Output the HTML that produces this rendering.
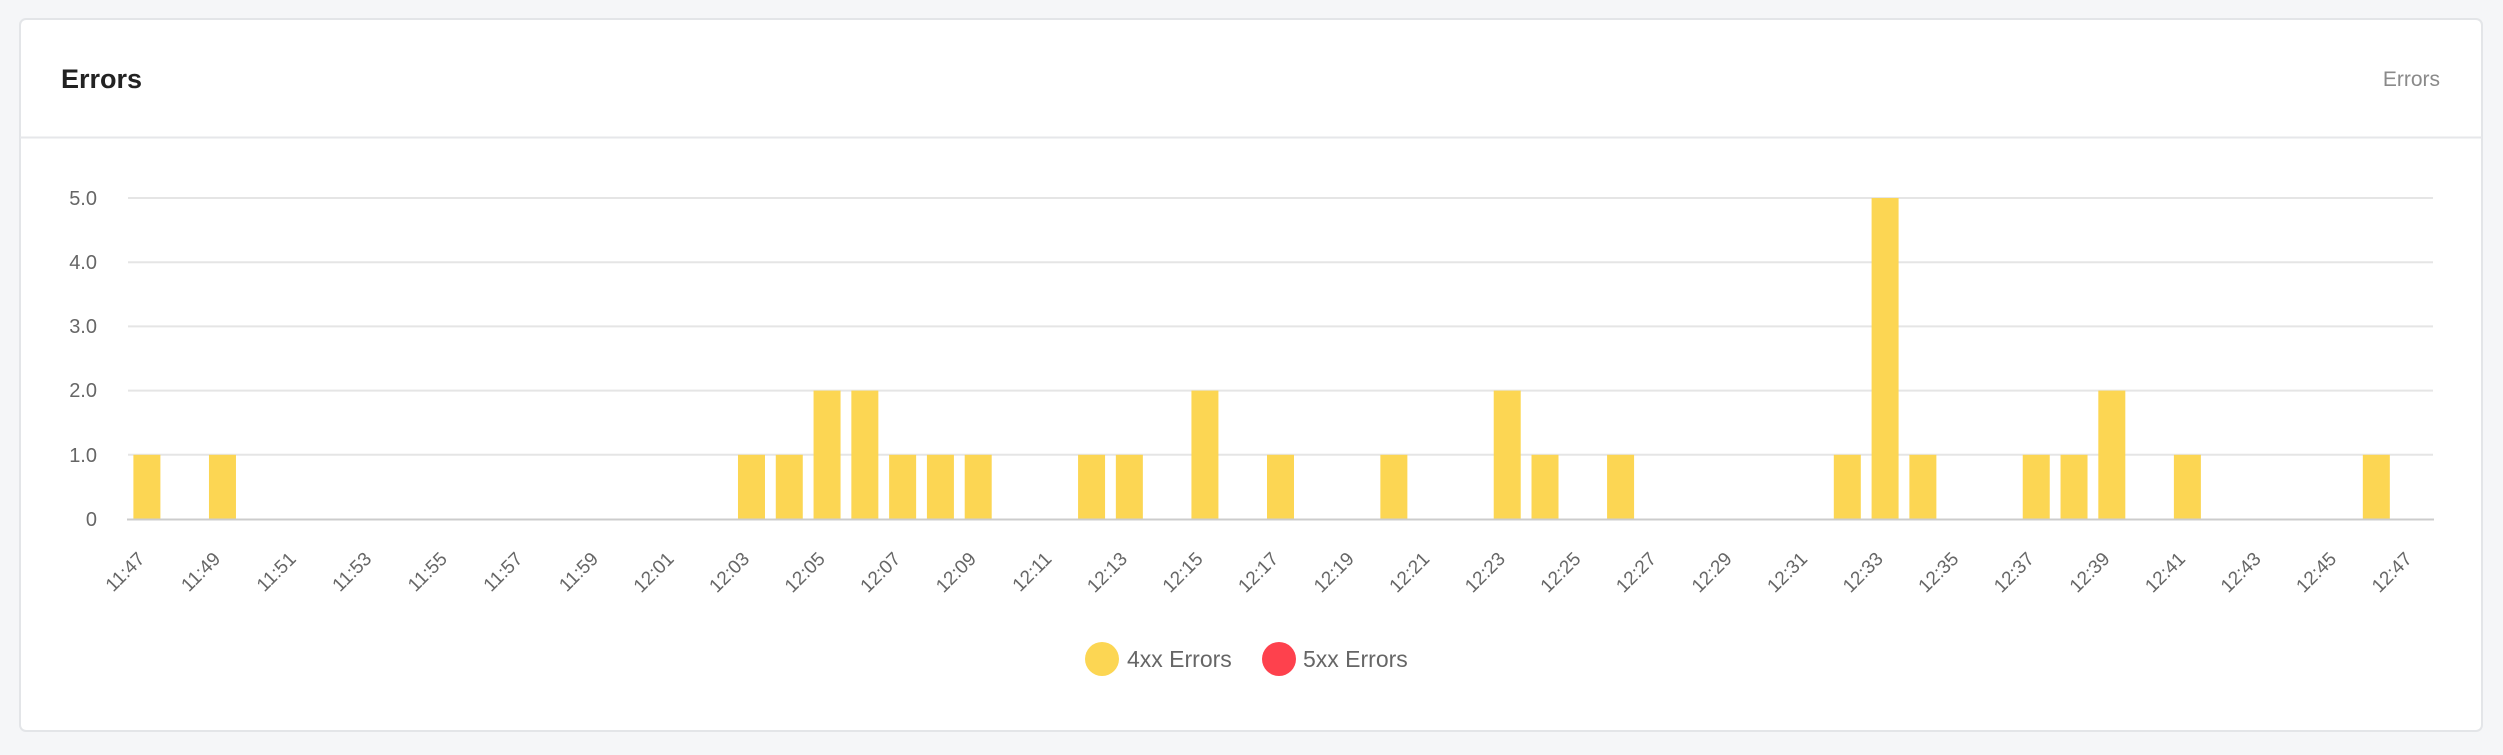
<!DOCTYPE html>
<html><head><meta charset="utf-8"><style>
html,body{margin:0;padding:0;background:#f5f6f8;}
body{width:2503px;height:750px;overflow:hidden;font-family:"Liberation Sans",sans-serif;}
</style></head><body>
<svg width="2503" height="750" xmlns="http://www.w3.org/2000/svg" font-family="Liberation Sans, sans-serif">
<rect x="0" y="0" width="2503" height="750" fill="#f5f6f8"/>
<rect x="20" y="19" width="2462" height="712" rx="6" fill="#fff" stroke="#e3e5e8" stroke-width="2"/>
<line x1="20" y1="137.5" x2="2482" y2="137.5" stroke="#e6e7ea" stroke-width="2"/>
<text x="61" y="88" font-size="27" font-weight="bold" fill="#222">Errors</text>
<text x="2440" y="86" font-size="21" fill="#8a8a8a" text-anchor="end">Errors</text>
<g stroke="#e5e5e5" stroke-width="2">
<line x1="128" y1="198" x2="2433" y2="198"/>
<line x1="128" y1="262.2" x2="2433" y2="262.2"/>
<line x1="128" y1="326.4" x2="2433" y2="326.4"/>
<line x1="128" y1="390.6" x2="2433" y2="390.6"/>
<line x1="128" y1="454.8" x2="2433" y2="454.8"/>
</g>
<g font-size="20" fill="#666" text-anchor="end">
<text x="97" y="205">5.0</text>
<text x="97" y="269">4.0</text>
<text x="97" y="333">3.0</text>
<text x="97" y="397">2.0</text>
<text x="97" y="462">1.0</text>
<text x="97" y="526">0</text>
</g>
<g id="bars" fill="#fcd653"></g>
<line x1="127" y1="519.5" x2="2434" y2="519.5" stroke="#ccc" stroke-width="2"/>
<g id="xl" font-size="19" fill="#666" text-anchor="end"></g>
<circle cx="1102" cy="659" r="17" fill="#fcd653"/>
<text x="1127" y="667" font-size="23" fill="#666">4xx Errors</text>
<circle cx="1279" cy="659" r="17" fill="#fe414d"/>
<text x="1303" y="667" font-size="23" fill="#666">5xx Errors</text>
</svg>
<script>
var vals={0:1,2:1,16:1,17:1,18:2,19:2,20:1,21:1,22:1,25:1,26:1,28:2,30:1,33:1,36:2,37:1,39:1,45:1,46:5,47:1,50:1,51:1,52:2,54:1,59:1};
var ns="http://www.w3.org/2000/svg";
var bw=(2433-128)/61, unit=64.2, y0=519;
var bars=document.getElementById('bars'), xl=document.getElementById('xl');
for(var i=0;i<61;i++){
  var cx=128+bw*(i+0.5);
  if(vals[i]){
    var r=document.createElementNS(ns,'rect');
    r.setAttribute('x',cx-13.5);r.setAttribute('width',27);
    r.setAttribute('y',y0-vals[i]*unit);r.setAttribute('height',vals[i]*unit);
    bars.appendChild(r);
  }
  if(i%2==0){
    var m=47+i, h=11+Math.floor(m/60); m=m%60;
    var t=document.createElementNS(ns,'text');
    t.textContent=h+":"+(m<10?"0"+m:m);
    t.setAttribute('transform','translate('+(cx-1)+',560) rotate(-45)');
    xl.appendChild(t);
  }
}
</script>
</body></html>
